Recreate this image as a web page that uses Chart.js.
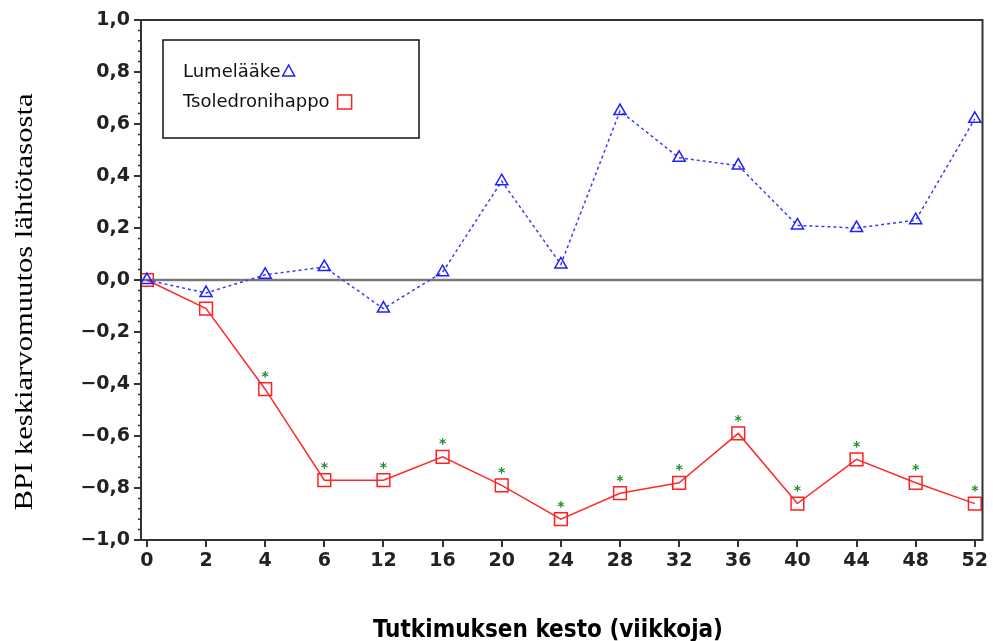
<!DOCTYPE html>
<html>
<head>
<meta charset="utf-8">
<script src="https://cdn.jsdelivr.net/npm/chart.js@4"></script>
<style>
  html, body { margin: 0; padding: 0; background: #fff; }
  #wrap { position: relative; width: 993px; height: 641px; }
</style>
</head>
<body>
<div id="wrap"><canvas id="bpiChart" width="993" height="641"></canvas></div>
<script>
var weeks = ['0', '2', '4', '6', '12', '16', '20', '24', '28', '32', '36', '40', '44', '48', '52'];
var placebo = [0.0, -0.05, 0.02, 0.05, -0.11, 0.03, 0.38, 0.06, 0.65, 0.47, 0.44, 0.21, 0.20, 0.23, 0.62];
var zoledronic = [0.0, -0.11, -0.42, -0.77, -0.77, -0.68, -0.79, -0.92, -0.82, -0.78, -0.59, -0.86, -0.69, -0.78, -0.86];
var significant = [false, false, true, true, true, true, true, true, true, true, true, true, true, true, true];
var yTicks = [-1.0, -0.8, -0.6, -0.4, -0.2, 0.0, 0.2, 0.4, 0.6, 0.8, 1.0];
var legendNames = ['Lumelääke', 'Tsoledronihappo'];
var yTitle = 'BPI keskiarvomuutos lähtötasosta';
var xTitle = 'Tutkimuksen kesto (viikkoja)';

function points(values) {
    return values.map(function (v, i) { return { x: i, y: v }; });
}

function fmt(v) {
    return v.toFixed(1).replace('.', ',').replace('-', '\u2212');
}

var decorPlugin = {
    id: 'decor',
    beforeDatasetsDraw: function (chart) {
        var ctx = chart.ctx, a = chart.chartArea, y = chart.scales.y;
        ctx.save();
        // zero line
        ctx.strokeStyle = '#7a7a7a';
        ctx.lineWidth = 2.5;
        ctx.beginPath();
        ctx.moveTo(a.left, y.getPixelForValue(0));
        ctx.lineTo(a.right, y.getPixelForValue(0));
        ctx.stroke();
        ctx.restore();
    },
    afterDatasetsDraw: function (chart) {
        var ctx = chart.ctx, a = chart.chartArea, x = chart.scales.x, y = chart.scales.y;
        ctx.save();
        // significance asterisks
        ctx.fillStyle = '#1f8a2a';
        ctx.font = 'bold 14px "DejaVu Sans"';
        ctx.textAlign = 'center';
        ctx.textBaseline = 'middle';
        zoledronic.forEach(function (v, i) {
            if (significant[i]) {
                ctx.fillText('*', x.getPixelForValue(i), y.getPixelForValue(v) - 12);
            }
        });
        // frame
        ctx.strokeStyle = '#333';
        ctx.lineWidth = 2;
        ctx.strokeRect(a.left, a.top, a.right - a.left, a.bottom - a.top);
        // minor y ticks
        ctx.lineWidth = 1.5;
        ctx.beginPath();
        for (var k = 0; k <= 50; k++) {
            var py = y.getPixelForValue(-1 + k * 0.04);
            ctx.moveTo(a.left, py);
            ctx.lineTo(a.left - 3, py);
        }
        ctx.stroke();
        // legend box
        var lx = a.left + 22, ly = a.top + 20;
        ctx.lineWidth = 1.5;
        ctx.strokeStyle = '#111';
        ctx.strokeRect(lx, ly, 256, 98);
        ctx.fillStyle = '#111';
        ctx.font = '18px "DejaVu Sans"';
        ctx.textAlign = 'left';
        ctx.textBaseline = 'middle';
        ctx.fillText(legendNames[0], lx + 20, ly + 32);
        var w0 = ctx.measureText(legendNames[0]).width;
        ctx.fillText(legendNames[1], lx + 20, ly + 62);
        var w1 = ctx.measureText(legendNames[1]).width;
        ctx.strokeStyle = '#2020ff';
        ctx.lineWidth = 1.5;
        var tx = lx + 20 + w0 + 8, ty = ly + 31;
        ctx.beginPath();
        ctx.moveTo(tx, ty - 6);
        ctx.lineTo(tx + 6, ty + 5);
        ctx.lineTo(tx - 6, ty + 5);
        ctx.closePath();
        ctx.stroke();
        ctx.strokeStyle = '#ff2020';
        ctx.strokeRect(lx + 20 + w1 + 8, ly + 55, 14, 14);
        // axis titles
        ctx.fillStyle = '#000';
        ctx.save();
        ctx.font = '25px "Liberation Serif"';
        ctx.textAlign = 'center';
        ctx.translate(25, 302);
        ctx.rotate(-Math.PI / 2);
        var wy = ctx.measureText(yTitle).width;
        ctx.scale(417 / wy, 1);
        ctx.fillText(yTitle, 0, 0);
        ctx.restore();
        ctx.save();
        ctx.font = 'bold 24px "DejaVu Sans Condensed"';
        ctx.textAlign = 'center';
        ctx.translate(548, 631);
        var wx = ctx.measureText(xTitle).width;
        ctx.scale(350 / wx, 1);
        ctx.fillText(xTitle, 0, 0);
        ctx.restore();
        ctx.restore();
    }
};

new Chart(document.getElementById('bpiChart'), {
    type: 'line',
    data: {
        datasets: [{
            label: legendNames[0],
            data: points(placebo),
            borderColor: '#3a3aff',
            borderWidth: 1.5,
            borderDash: [3, 3],
            pointStyle: 'triangle',
            pointRadius: 7,
            pointBorderWidth: 1.5,
            pointBackgroundColor: 'rgba(0,0,0,0)',
            pointBorderColor: '#2020ff',
            tension: 0
        }, {
            label: legendNames[1],
            data: points(zoledronic),
            borderColor: '#ff2a2a',
            borderWidth: 1.5,
            pointStyle: 'rect',
            pointRadius: 9,
            pointBorderWidth: 1.5,
            pointBackgroundColor: 'rgba(0,0,0,0)',
            pointBorderColor: '#ff2020',
            tension: 0
        }]
    },
    options: {
        responsive: false,
        animation: false,
        layout: { padding: { left: 0, right: 5, top: 20, bottom: 0 } },
        plugins: { legend: { display: false }, tooltip: { enabled: false } },
        scales: {
            x: {
                type: 'linear',
                min: -0.1,
                max: 14.13,
                afterFit: function (s) { s.height = 101; },
                afterBuildTicks: function (s) {
                    s.ticks = weeks.map(function (w, i) { return { value: i }; });
                },
                ticks: {
                    callback: function (v) { return weeks[v]; },
                    font: { family: 'DejaVu Sans', size: 19, weight: 'bold' },
                    color: '#222',
                    maxRotation: 0,
                    autoSkip: false,
                    padding: 3
                },
                grid: { drawOnChartArea: false, tickLength: 7, color: '#333', lineWidth: 2 },
                border: { display: false }
            },
            y: {
                min: -1.0,
                max: 1.0,
                afterFit: function (s) { s.width = 141; },
                afterBuildTicks: function (s) {
                    s.ticks = yTicks.map(function (v) { return { value: v }; });
                },
                ticks: {
                    callback: function (v) { return fmt(v); },
                    font: { family: 'DejaVu Sans', size: 19, weight: 'bold' },
                    color: '#222',
                    padding: 4
                },
                grid: { drawOnChartArea: false, tickLength: 7, color: '#333', lineWidth: 2 },
                border: { display: false }
            }
        }
    },
    plugins: [decorPlugin]
});
</script>
</body>
</html>
